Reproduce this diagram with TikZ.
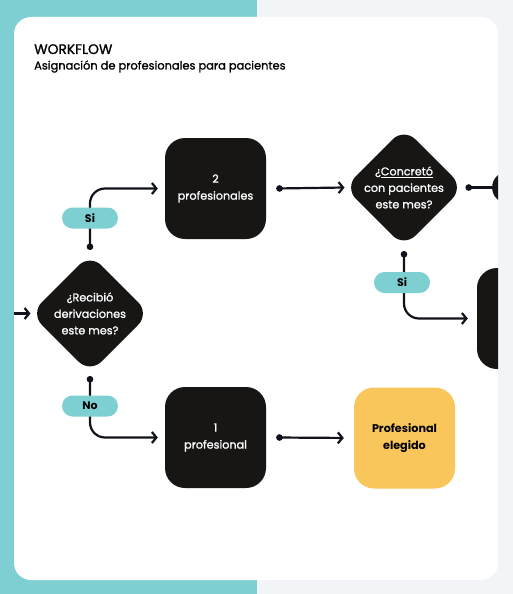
\documentclass[tikz,border=0pt]{standalone}
\usepackage{fontspec}
\setmainfont{Poppins}
\newfontfamily\wfmed{Poppins}[FakeBold=1.2]
\usetikzlibrary{shapes.geometric,arrows.meta,positioning}
\definecolor{wfteal}{HTML}{7ECFD2}
\definecolor{wfgray}{HTML}{F3F4F8}
\definecolor{wfdark}{HTML}{171615}
\definecolor{wfyellow}{HTML}{F9C65B}
\definecolor{wfline}{HTML}{11131C}
\tikzset{
  box/.style={rectangle, rounded corners=20pt, fill=wfdark, text=white, minimum width=101pt, minimum height=101pt, inner sep=0pt, align=center, font=\fontsize{11.2}{17}\wfmed},
  chosen/.style={box, fill=wfyellow, text=black, font=\fontsize{11.2}{17}\selectfont\bfseries},
  decision/.style={diamond, aspect=1, rounded corners=16pt, fill=wfdark, minimum width=119pt, minimum height=119pt, inner sep=0pt, outer sep=0pt},
  dtext/.style={text=white, align=center, font=\fontsize{11.2}{16.5}\wfmed},
  pill/.style={rectangle, rounded corners=10.5pt, fill=wfteal, minimum width=56pt, minimum height=21pt, inner sep=0pt, font=\fontsize{11}{12}\selectfont\bfseries},
  flow/.style={line width=2.2pt, draw=wfline, rounded corners=15pt, arrows={Circle[length=6.5pt]-Straight Barb[length=4.5pt,width=11pt]}},
  feed/.style={line width=2.2pt, draw=wfline, arrows={-Straight Barb[length=4.5pt,width=11pt]}}
}
\begin{document}
\begin{tikzpicture}[x=1pt,y=-1pt]
  \useasboundingbox (0,0) rectangle (513,594);
  \fill [wfteal] (0,0) rectangle (257,594);
  \fill [wfgray] (257,0) rectangle (513,594);
  \fill [white, rounded corners=17pt] (14,17) rectangle (498,580);

  \node [anchor=base west, inner sep=0pt, font=\fontsize{13.8}{15}\wfmed] (title) at (34,54) {WORKFLOW};
  \node [anchor=base west, inner sep=0pt, font=\fontsize{11.4}{12}\wfmed] (subtitle) at (34,69.5) {Asignación de profesionales para pacientes};

  \begin{scope}
    \clip [rounded corners=17pt] (14,17) rectangle (498,580);

    % decisiones
    \node [decision, label={[dtext]center:{¿Recibió\\derivaciones\\este mes?}}] (recibio) at (90,313.5) {};
    \node [decision, label={[dtext]center:{¿\underline{Concretó}\\con pacientes\\este mes?}}] (concreto) at (404,187.5) {};
    \node [decision] (siguiente) at (545,187.5) {};

    % cajas
    \node [box] (dos) at (215.5,188.5) {2\\profesionales};
    \node [box] (uno) at (215.5,437.5) {1\\profesional};
    \node [chosen] (elegido) at (404.5,438) {Profesional\\elegido};
    \node [box] (otra) at (527.5,318.5) {};

    \coordinate (entrada) at (14,313.5);

    % conexiones
    \draw [feed] (entrada) -- (recibio.west);
    \draw [flow, shorten >=7pt] ([yshift=4pt]recibio.north) |- (dos.west);
    \draw [flow, shorten >=7pt] ([yshift=-3pt]recibio.south) |- (uno.west);
    \draw [flow] ([xshift=10pt]dos.east) -- (concreto.west);
    \draw [line width=2.2pt, draw=wfline, arrows={Circle[length=6.5pt]-}, shorten >=-8pt] ([xshift=2pt]concreto.east) -- (siguiente.west);
    \draw [flow, shorten >=9pt] ([yshift=-4pt]concreto.south) |- (otra.west);
    \draw [flow, shorten >=10pt] ([xshift=10pt]uno.east) -- (elegido.west);

    % etiquetas
    \node [pill] (si1) at (90,218) {Si};
    \node [pill] (no1) at (90,406) {No};
    \node [pill] (si2) at (402,282.5) {Si};
  \end{scope}
\end{tikzpicture}
\end{document}
